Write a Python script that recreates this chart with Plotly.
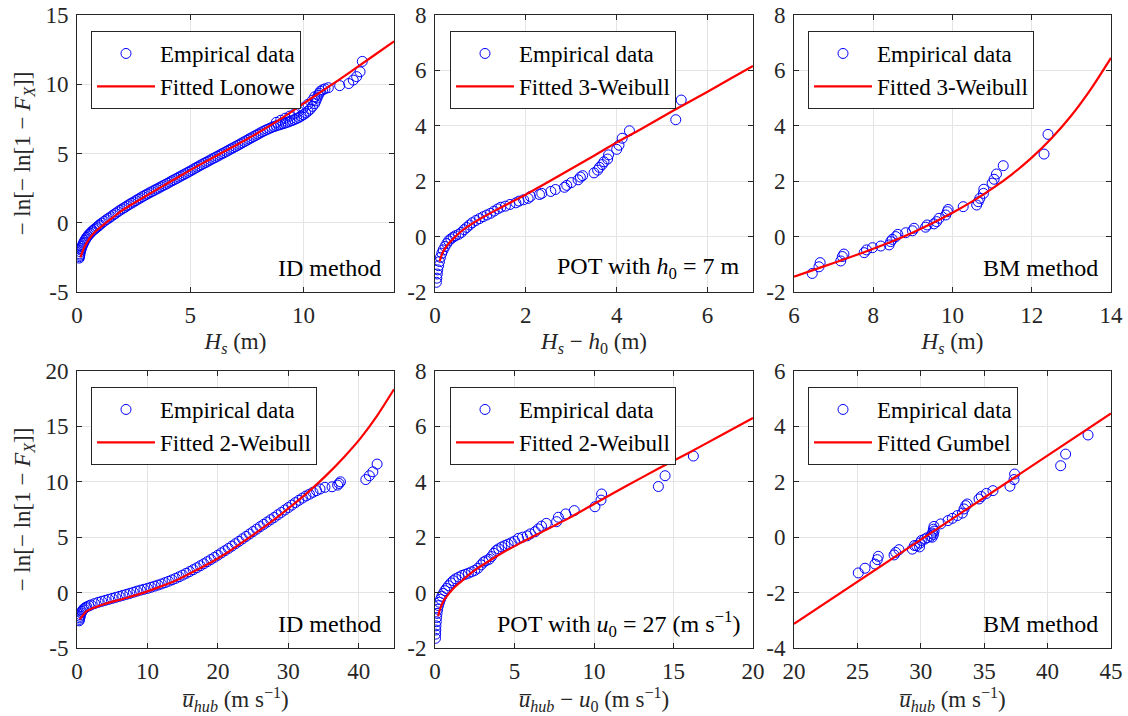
import plotly.graph_objects as go

# ---------------- Panel 1: ID method, Hs ----------------
p1_emp_x = [0.10, 0.11, 0.12, 0.13, 0.15, 0.17, 0.19, 0.22, 0.25, 0.28, 0.31, 0.35, 0.39, 0.43, 0.48, 0.53,
            0.58, 0.64, 0.70, 0.76, 0.83, 0.90, 0.97,
            1.0, 1.1, 1.2, 1.3, 1.4, 1.5, 1.6, 1.7, 1.8, 1.9, 2.0, 2.1, 2.2, 2.3, 2.4, 2.5, 2.6, 2.7, 2.8, 2.9,
            3.0, 3.1, 3.2, 3.3, 3.4, 3.5, 3.6, 3.7, 3.8, 3.9, 4.0, 4.1, 4.2, 4.3, 4.4, 4.5, 4.6, 4.7, 4.8, 4.9,
            5.0, 5.1, 5.2, 5.3, 5.4, 5.5, 5.6, 5.7, 5.8, 5.9, 6.0, 6.1, 6.2, 6.3, 6.4, 6.5, 6.6, 6.7, 6.8, 6.9,
            7.0, 7.1, 7.2, 7.3, 7.4, 7.5, 7.6, 7.7, 7.8, 7.9, 8.0, 8.1, 8.2, 8.3, 8.4, 8.5, 8.6, 8.7, 8.8, 8.9,
            9.0, 9.1, 9.2, 9.3, 9.4, 9.5, 9.6, 9.7, 9.8, 9.9, 10.0, 10.1, 10.2, 10.3, 10.4, 10.5, 10.55, 10.6,
            10.65, 10.7, 10.75, 10.85, 10.95,
            8.8, 9.0, 9.2, 9.4, 9.6, 9.8, 10.0, 10.2, 10.4, 10.5,
            11.1, 11.6, 12.0, 12.2, 12.35, 12.5, 12.6]
p1_emp_y = [-2.55, -2.45, -2.35, -2.25, -2.1, -1.97, -1.86, -1.72, -1.6, -1.49, -1.39, -1.27, -1.16, -1.06, -0.95, -0.85,
            -0.76, -0.66, -0.57, -0.48, -0.39, -0.3, -0.21,
            -0.14, -0.02, 0.1, 0.22, 0.33, 0.44, 0.56, 0.67, 0.79, 0.9, 1.0, 1.1, 1.21, 1.31, 1.41, 1.5, 1.6, 1.7, 1.79, 1.89,
            1.98, 2.07, 2.16, 2.24, 2.33, 2.42, 2.5, 2.59, 2.68, 2.76, 2.85, 2.94, 3.03, 3.11, 3.2, 3.29, 3.38, 3.46, 3.55, 3.64,
            3.73, 3.82, 3.92, 4.01, 4.1, 4.19, 4.28, 4.36, 4.45, 4.54, 4.63, 4.71, 4.8, 4.89, 4.98, 5.06, 5.15, 5.24, 5.33, 5.41,
            5.5, 5.59, 5.68, 5.77, 5.86, 5.95, 6.05, 6.13, 6.22, 6.31, 6.4, 6.49, 6.58, 6.66, 6.74, 6.81, 6.88, 6.94, 7.0, 7.05,
            7.1, 7.15, 7.2, 7.26, 7.32, 7.38, 7.45, 7.52, 7.6, 7.7, 7.8, 7.92, 8.05, 8.2, 8.4, 8.6, 8.8, 9.0,
            9.2, 9.35, 9.5, 9.6, 9.67,
            7.25, 7.4, 7.55, 7.7, 7.85, 8.05, 8.3, 8.55, 8.85, 9.1,
            9.75, 9.9, 10.05, 10.3, 10.55, 10.9, 11.65]
p1_fit_x = [0.15, 0.3, 0.5, 0.8, 1.2, 1.6, 2, 3, 4, 5, 6, 7, 8, 9, 10, 11, 12, 13, 14]
p1_fit_y = [-2.5, -1.85, -1.25, -0.65, -0.1, 0.4, 0.9, 1.9, 2.85, 3.8, 4.7, 5.58, 6.5, 7.5, 8.6, 9.7, 10.8, 11.95, 13.1]

# ---------------- Panel 2: POT, Hs - h0 ----------------
p2_emp_x = [0.03, 0.04, 0.05, 0.06, 0.08, 0.10, 0.12, 0.15, 0.18, 0.22, 0.26, 0.30, 0.35, 0.40, 0.45,
            0.52, 0.58, 0.64, 0.70, 0.76, 0.82, 0.90, 0.98, 1.06, 1.14, 1.22, 1.30, 1.38, 1.45, 1.55,
            1.65, 1.78, 1.85, 1.95, 2.05, 2.1, 2.3, 2.35, 2.55, 2.65, 2.85, 2.9, 3.0, 3.15, 3.2, 3.25,
            3.5, 3.58, 3.62, 3.68, 3.72, 3.8, 3.82, 4.0, 4.05, 4.12, 4.28, 5.3, 5.42]
p2_emp_y = [-1.65, -1.5, -1.35, -1.2, -1.05, -0.9, -0.75, -0.6, -0.48, -0.36, -0.25, -0.15, -0.08, -0.02, 0.03,
            0.08, 0.15, 0.25, 0.33, 0.42, 0.5, 0.58, 0.65, 0.72, 0.78, 0.84, 0.92, 1.0, 1.06, 1.1,
            1.16, 1.22, 1.28, 1.33, 1.38, 1.45, 1.52, 1.56, 1.63, 1.7, 1.78, 1.85, 1.95, 2.05, 2.15, 2.2,
            2.3, 2.4, 2.5, 2.6, 2.7, 2.8, 2.95, 3.15, 3.3, 3.55, 3.82, 4.22, 4.93]
p2_fit_x = [0.1, 0.15, 0.2, 0.3, 0.45, 0.6, 0.8, 1.0, 1.3, 1.6, 2.0, 2.5, 3.0, 3.5, 4.0, 4.5, 5.0, 5.5, 6.0, 6.5, 7.0]
p2_fit_y = [-0.9, -0.65, -0.48, -0.25, 0.0, 0.22, 0.45, 0.65, 0.92, 1.18, 1.52, 1.98, 2.45, 2.92, 3.4, 3.85, 4.32, 4.78, 5.23, 5.7, 6.16]

# ---------------- Panel 3: BM method, Hs ----------------
p3_emp_x = [6.46, 6.63, 6.66, 7.18, 7.22, 7.26, 7.77, 7.83, 7.98, 8.19, 8.40, 8.44, 8.48, 8.57, 8.62,
            8.82, 8.99, 9.03, 9.32, 9.36, 9.53, 9.60, 9.66, 9.83, 9.87, 9.89, 10.27, 10.61, 10.65, 10.69,
            10.78, 10.79, 11.0, 11.05, 11.11, 11.28, 12.31, 12.41]
p3_emp_y = [-1.33, -1.09, -0.94, -0.88, -0.72, -0.63, -0.58, -0.48, -0.40, -0.34, -0.30, -0.18, -0.10, 0.0, 0.08,
            0.14, 0.21, 0.30, 0.34, 0.42, 0.46, 0.54, 0.66, 0.78, 0.90, 0.98, 1.08, 1.14, 1.26, 1.38,
            1.56, 1.71, 1.93, 2.07, 2.26, 2.56, 2.98, 3.69]
p3_fit_x = [6, 6.5, 7, 7.5, 8, 8.5, 9, 9.5, 10, 10.5, 11, 11.5, 12, 12.5, 13, 13.5, 14]
p3_fit_y = [-1.45, -1.2, -0.95, -0.7, -0.44, -0.16, 0.15, 0.49, 0.86, 1.27, 1.73, 2.25, 2.85, 3.55, 4.37, 5.34, 6.45]

# ---------------- Panel 4: ID method, u_hub ----------------
p4_emp_x = [0.3, 0.35, 0.4, 0.45, 0.5, 0.6, 0.7, 0.85, 1.0, 1.2, 1.4, 1.7, 2.0, 2.5, 3.0, 3.5, 4.0, 4.5,
            5.0, 5.5, 6.0, 6.5, 7.0, 7.5, 8.0, 8.5, 9.0, 9.5, 10.0, 10.5, 11.0, 11.5, 12.0, 12.5, 13.0,
            13.5, 14.0, 14.5, 15.0, 15.5, 16.0, 16.5, 17.0, 17.5, 18.0, 18.5, 19.0, 19.5, 20.0, 20.5,
            21.0, 21.5, 22.0, 22.5, 23.0, 23.5, 24.0, 24.5, 25.0, 25.5, 26.0, 26.5, 27.0, 27.5, 28.0,
            28.5, 29.0, 29.5, 30.0, 30.5, 31.0, 31.5, 32.0, 32.5, 33.0, 33.5, 34.0, 34.5, 35.2, 36.2,
            37.0, 37.2, 37.4, 41.0, 41.5, 42.0, 42.6]
p4_emp_y = [-2.55, -2.42, -2.28, -2.14, -2.0, -1.84, -1.7, -1.56, -1.45, -1.36, -1.28, -1.19, -1.11, -0.99,
            -0.88, -0.79, -0.7, -0.61, -0.52, -0.43, -0.34, -0.25, -0.16, -0.07, 0.03, 0.13, 0.22, 0.3,
            0.38, 0.48, 0.58, 0.68, 0.78, 0.9, 1.02, 1.15, 1.28, 1.43, 1.58, 1.74, 1.9, 2.07, 2.24, 2.42,
            2.6, 2.79, 2.98, 3.18, 3.38, 3.58, 3.78, 3.99, 4.2, 4.41, 4.63, 4.85, 5.07, 5.29, 5.51, 5.73,
            5.95, 6.16, 6.37, 6.58, 6.79, 7.02, 7.24, 7.46, 7.68, 7.9, 8.12, 8.33, 8.53, 8.72, 8.88, 9.05, 9.2,
            9.35, 9.5, 9.55, 9.7, 9.85, 10.0, 10.2, 10.55, 10.9, 11.6]
p4_fit_x = [0.38, 1.42, 3.79, 7.1, 9.47, 11.83, 14.2, 16.56, 18.93, 21.3, 23.66, 26.03, 28.4, 30.76,
            33.13, 35.49, 37.86, 40.23, 42.59, 45.0]
p4_fit_y = [-2.42, -1.65, -1.05, -0.46, 0.0, 0.54, 1.14, 1.9, 2.7, 3.6, 4.62, 5.68, 6.8, 7.98,
            9.25, 10.65, 12.2, 13.92, 15.95, 18.35]

# ---------------- Panel 5: POT, u_hub - u0 ----------------
p5_emp_x = [0.03, 0.04, 0.05, 0.06, 0.08, 0.1, 0.13, 0.17, 0.22, 0.28, 0.35, 0.43, 0.52, 0.62, 0.72, 0.85,
            1.0, 1.15, 1.3, 1.5, 1.7, 1.9, 2.1, 2.3, 2.5, 2.7, 2.9, 3.05, 3.2, 3.4, 3.55, 3.7, 3.85, 4.0,
            4.2, 4.4, 4.6, 4.8, 5.0, 5.25, 5.5, 5.8, 6.0, 6.3, 6.5, 6.7, 7.0, 7.65, 7.76, 8.22, 8.76,
            10.06, 10.44, 10.48, 14.05, 14.47, 16.25]
p5_emp_y = [-1.65, -1.5, -1.35, -1.2, -1.05, -0.9, -0.75, -0.6, -0.47, -0.35, -0.24, -0.13, -0.03, 0.07, 0.15,
            0.25, 0.35, 0.43, 0.5, 0.56, 0.62, 0.66, 0.7, 0.75, 0.8, 0.88, 1.0, 1.1, 1.15, 1.2, 1.3, 1.42,
            1.52, 1.58, 1.65, 1.7, 1.75, 1.8, 1.86, 1.96, 2.0, 2.05, 2.12, 2.2, 2.3, 2.4, 2.5, 2.56, 2.72,
            2.84, 2.96, 3.1, 3.34, 3.56, 3.83, 4.22, 4.93]
p5_fit_x = [0.2, 0.3, 0.45, 0.65, 0.9, 1.26, 1.6, 2.1, 2.6, 3.14, 4.19, 5.24, 6.29, 7.3, 8.39, 10.0,
            12.0, 14.0, 16.0, 18.0, 20.0]
p5_fit_y = [-0.85, -0.62, -0.4, -0.2, -0.02, 0.21, 0.38, 0.63, 0.85, 1.05, 1.42, 1.75, 2.06, 2.36, 2.68, 3.2,
            3.84, 4.46, 5.06, 5.68, 6.3]

# ---------------- Panel 6: BM method, u_hub ----------------
p6_emp_x = [25.07, 25.6, 26.39, 26.57, 26.65, 27.89, 28.02, 28.28, 29.33, 29.5, 29.67, 29.9, 29.94, 30.04,
            30.3, 30.5, 30.78, 30.9, 30.91, 31.0, 30.99, 31.05, 31.04, 31.57, 32.15, 32.49, 32.88, 33.28,
            33.41, 33.54, 33.67, 34.59, 34.77, 35.17, 35.69, 37.03, 37.35, 37.4, 41.03, 41.42, 43.19]
p6_emp_y = [-1.29, -1.12, -0.97, -0.81, -0.69, -0.64, -0.55, -0.45, -0.43, -0.3, -0.31, -0.35, -0.21, -0.12,
            -0.07, -0.02, 0.03, 0.0, 0.15, 0.1, 0.29, 0.22, 0.39, 0.48, 0.6, 0.68, 0.78, 0.87,
            1.02, 1.14, 1.2, 1.38, 1.47, 1.58, 1.68, 1.84, 2.08, 2.28, 2.58, 3.0, 3.69]
p6_fit_x = [20, 32.5, 45]
p6_fit_y = [-3.13, 0.67, 4.47]

# ---------------- Labels / ticks ----------------
fit_names = ["Fitted Lonowe", "Fitted 3-Weibull", "Fitted 3-Weibull",
             "Fitted 2-Weibull", "Fitted 2-Weibull", "Fitted Gumbel"]
method_labels = ["ID method", "POT with <i>h</i><sub>0</sub> = 7 m", "BM method",
                 "ID method", "POT with <i>u</i><sub>0</sub> = 27 (m s<sup>−1</sup>)", "BM method"]
x_titles = ["<i>H</i><sub><i>s</i></sub> (m)",
            "<i>H</i><sub><i>s</i></sub> − <i>h</i><sub>0</sub> (m)",
            "<i>H</i><sub><i>s</i></sub> (m)",
            "<i>u\u0305</i><sub><i>hub</i></sub> (m s<sup>−1</sup>)",
            "<i>u\u0305</i><sub><i>hub</i></sub> − <i>u</i><sub>0</sub> (m s<sup>−1</sup>)",
            "<i>u\u0305</i><sub><i>hub</i></sub> (m s<sup>−1</sup>)"]
y_title = "− ln[− ln[1 − <i>F</i><sub><i>X</i></sub>]]"

x_ranges = [[0, 14], [0, 7], [6, 14], [0, 45], [0, 20], [20, 45]]
y_ranges = [[-5, 15], [-2, 8], [-2, 8], [-5, 20], [-2, 8], [-4, 6]]
x_ticks = [[0, 5, 10], [0, 2, 4, 6], [6, 8, 10, 12, 14],
           [0, 10, 20, 30, 40], [0, 5, 10, 15, 20], [20, 25, 30, 35, 40, 45]]
y_ticks = [[-5, 0, 5, 10, 15], [-2, 0, 2, 4, 6, 8], [-2, 0, 2, 4, 6, 8],
           [-5, 0, 5, 10, 15, 20], [-2, 0, 2, 4, 6, 8], [-4, -2, 0, 2, 4, 6]]

emp = [(p1_emp_x, p1_emp_y), (p2_emp_x, p2_emp_y), (p3_emp_x, p3_emp_y),
       (p4_emp_x, p4_emp_y), (p5_emp_x, p5_emp_y), (p6_emp_x, p6_emp_y)]
fit = [(p1_fit_x, p1_fit_y), (p2_fit_x, p2_fit_y), (p3_fit_x, p3_fit_y),
       (p4_fit_x, p4_fit_y), (p5_fit_x, p5_fit_y), (p6_fit_x, p6_fit_y)]

W, H = 1128, 716
col_px = [(77, 394), (435, 753), (794, 1111)]
row_px = [(15, 292), (371, 648)]
leg_px = [(91, 31), (450, 31), (808, 31), (91, 387), (450, 387), (808, 387)]

FONT = "Times New Roman, Liberation Serif, DejaVu Serif, serif"
AX = "#262626"

fig = go.Figure()
layout = dict(
    width=W, height=H, plot_bgcolor="white", paper_bgcolor="white",
    margin=dict(l=0, r=0, t=0, b=0, autoexpand=False),
    font=dict(family=FONT, size=22, color=AX),
    annotations=[],
)

for i in range(6):
    r, c = divmod(i, 3)
    n = i + 1
    xa = "x" if n == 1 else f"x{n}"
    ya = "y" if n == 1 else f"y{n}"
    lg = "legend" if n == 1 else f"legend{n}"
    fig.add_trace(go.Scatter(
        x=emp[i][0], y=emp[i][1], mode="markers", name="Empirical data",
        marker=dict(symbol="circle-open", size=10, color="#0000ff", line=dict(width=1)),
        xaxis=xa, yaxis=ya, legend=lg))
    fig.add_trace(go.Scatter(
        x=fit[i][0], y=fit[i][1], mode="lines", name=fit_names[i],
        line=dict(color="#ff0000", width=2.2, shape="spline", smoothing=0.6),
        xaxis=xa, yaxis=ya, legend=lg))

    x0, x1 = col_px[c]
    y0, y1 = row_px[r]
    common = dict(showline=True, linecolor=AX, linewidth=1, mirror="ticks",
                  ticks="inside", ticklen=5, tickcolor=AX, tickwidth=1,
                  showgrid=True, gridcolor="#e4e4e4", gridwidth=1, zeroline=False,
                  tickfont=dict(family=FONT, size=23, color=AX))
    layout["xaxis" if n == 1 else f"xaxis{n}"] = dict(
        common, domain=[x0 / W, x1 / W], range=x_ranges[i], anchor=ya,
        tickvals=x_ticks[i], ticktext=[str(v) for v in x_ticks[i]],
        ticklabelstandoff=2,
        title=dict(text=x_titles[i], font=dict(family=FONT, size=23, color=AX), standoff=6))
    ydict = dict(
        common, domain=[1 - y1 / H, 1 - y0 / H], range=y_ranges[i], anchor=xa,
        tickvals=y_ticks[i], ticktext=[str(v) for v in y_ticks[i]], ticklabelstandoff=3)
    if c == 0:
        ydict["title"] = dict(text=y_title, font=dict(family=FONT, size=23, color=AX), standoff=8)
    layout["yaxis" if n == 1 else f"yaxis{n}"] = ydict

    lx, ly = leg_px[i]
    layout[lg] = dict(x=lx / W, y=1 - ly / H, xanchor="left", yanchor="top",
                      xref="paper", yref="paper",
                      bgcolor="white", bordercolor=AX, borderwidth=1,
                      font=dict(family=FONT, size=23, color="black"),
                      itemwidth=58, tracegroupgap=0)

    layout["annotations"].append(dict(
        text=method_labels[i], xref=f"{xa} domain", yref=f"{ya} domain",
        x=1, y=0.087, xanchor="right", yanchor="middle", xshift=-11,
        showarrow=False, font=dict(family=FONT, size=24, color="black")))

fig.update_layout(**layout)
fig.write_html("out.html", config={"displayModeBar": False},
               post_script="document.body.style.margin='0';")
